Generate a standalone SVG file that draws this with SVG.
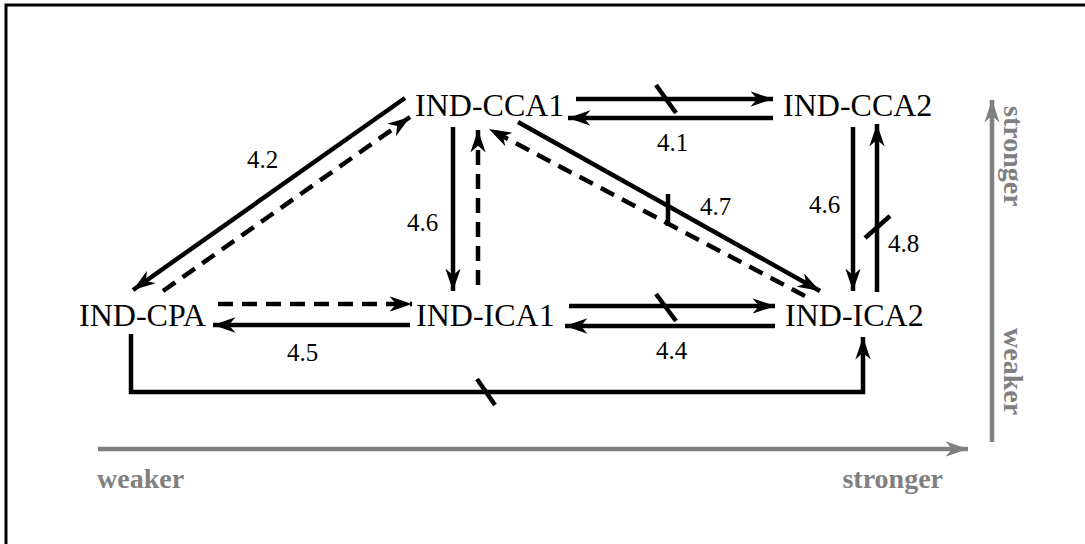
<svg xmlns="http://www.w3.org/2000/svg" width="1085" height="544" viewBox="0 0 1085 544">
<defs>
<style>
.n{font-family:"Liberation Serif",serif;font-size:32px;fill:#000}
.l{font-family:"Liberation Serif",serif;font-size:25px;fill:#000}
.g{font-family:"Liberation Serif",serif;font-size:28px;font-weight:bold;fill:#808080}
.s{stroke:#000;stroke-width:4.5;fill:none}
.d{stroke:#000;stroke-width:4.5;fill:none;stroke-dasharray:15,9}
.t{stroke:#000;stroke-width:4.5}
.ax{stroke:#808080;stroke-width:4.5;fill:none}
</style>
<marker id="ah" viewBox="0 0 10 10" refX="10" refY="5" markerWidth="5" markerHeight="3.4" markerUnits="strokeWidth" orient="auto" preserveAspectRatio="none"><path d="M0,0 L10,5 L0,10 L3,5 z" fill="#000"/></marker>
<marker id="ag" viewBox="0 0 10 10" refX="10" refY="5" markerWidth="5" markerHeight="3.4" markerUnits="strokeWidth" orient="auto" preserveAspectRatio="none"><path d="M0,0 L10,5 L0,10 L3,5 z" fill="#808080"/></marker>
</defs>
<rect x="6" y="5" width="1100" height="560" fill="#fff" stroke="#000" stroke-width="3"/>
<g id="connectors">
<line class="s" x1="576" y1="99" x2="773" y2="99" marker-end="url(#ah)"/>
<line class="t" x1="656" y1="85" x2="676" y2="113"/>
<line class="s" x1="773" y1="118" x2="568" y2="118" marker-end="url(#ah)"/>
<line class="s" x1="405" y1="98" x2="133" y2="290" marker-end="url(#ah)"/>
<line class="d" x1="163" y1="291" x2="410" y2="117" marker-end="url(#ah)"/>
<line class="s" x1="453" y1="127" x2="453" y2="291" marker-end="url(#ah)"/>
<line class="d" x1="478" y1="285" x2="478" y2="130" marker-end="url(#ah)"/>
<line class="s" x1="518" y1="122" x2="820" y2="291" marker-end="url(#ah)"/>
<line class="t" x1="668" y1="194" x2="668" y2="226"/>
<line class="d" x1="805" y1="296" x2="489" y2="129" marker-end="url(#ah)"/>
<line class="s" x1="853" y1="127" x2="853" y2="291" marker-end="url(#ah)"/>
<line class="s" x1="877" y1="292" x2="877" y2="124" marker-end="url(#ah)"/>
<line class="t" x1="865" y1="238" x2="890" y2="216"/>
<line class="d" x1="218" y1="304" x2="412" y2="304" marker-end="url(#ah)"/>
<line class="s" x1="410" y1="325" x2="213" y2="325" marker-end="url(#ah)"/>
<line class="s" x1="569" y1="306" x2="775" y2="306" marker-end="url(#ah)"/>
<line class="t" x1="656" y1="294" x2="676" y2="321"/>
<line class="s" x1="775" y1="326" x2="565" y2="326" marker-end="url(#ah)"/>
<polyline class="s" points="131,334 131,392 863,392 863,337" marker-end="url(#ah)"/>
<line class="t" x1="477" y1="379" x2="495" y2="405"/>
</g>
<g id="labels">
<text class="l" x="247" y="168">4.2</text>
<text class="l" x="657" y="151">4.1</text>
<text class="l" x="407" y="231">4.6</text>
<text class="l" x="809" y="213">4.6</text>
<text class="l" x="700" y="215">4.7</text>
<text class="l" x="888" y="252">4.8</text>
<text class="l" x="287" y="361">4.5</text>
<text class="l" x="656" y="359">4.4</text>
</g>
<g id="IND-CCA1"><text class="n" x="415" y="116">IND-CCA1</text></g>
<g id="IND-CCA2"><text class="n" x="783" y="116">IND-CCA2</text></g>
<g id="IND-CPA"><text class="n" x="79" y="326">IND-CPA</text></g>
<g id="IND-ICA1"><text class="n" x="416" y="326">IND-ICA1</text></g>
<g id="IND-ICA2"><text class="n" x="785" y="326">IND-ICA2</text></g>
<g id="axes">
<line class="ax" x1="98" y1="449" x2="968" y2="449" marker-end="url(#ag)"/>
<text class="g" x="97" y="488">weaker</text>
<text class="g" x="943" y="488" text-anchor="end">stronger</text>
<line class="ax" x1="992" y1="442" x2="992" y2="100" marker-end="url(#ag)"/>
<text class="g" transform="translate(1004,106) rotate(90)">stronger</text>
<text class="g" transform="translate(1004,328) rotate(90)">weaker</text>
</g>
</svg>
